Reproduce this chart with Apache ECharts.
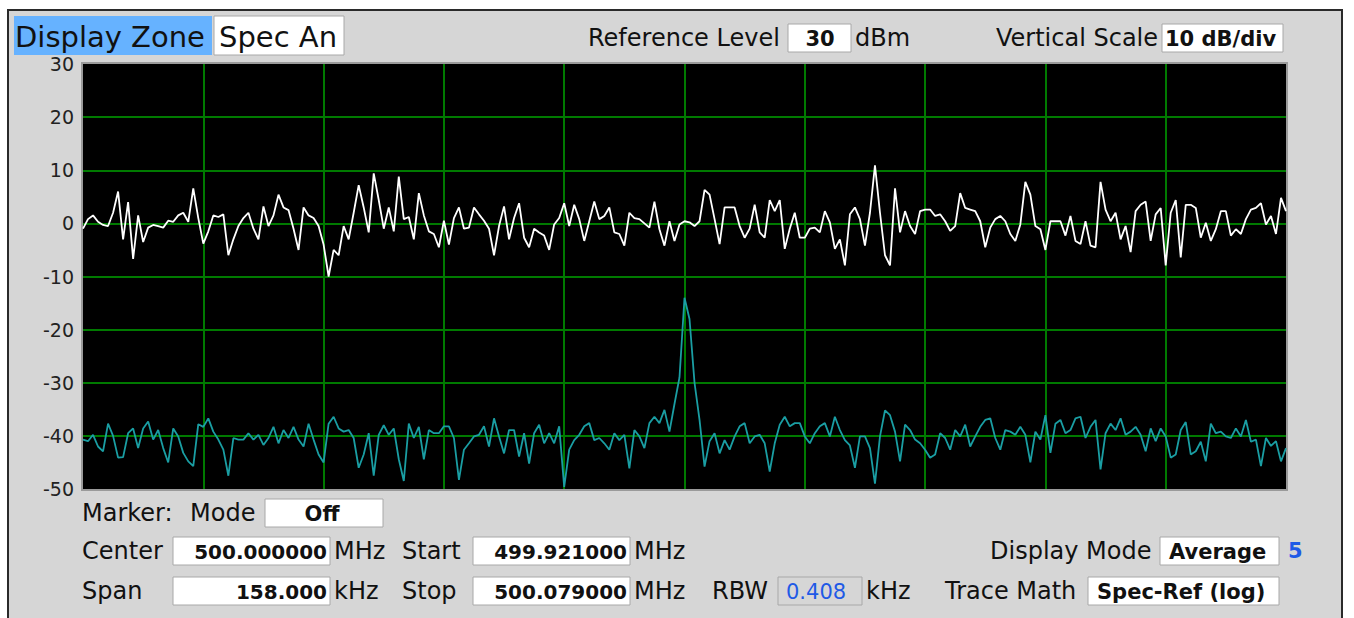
<!DOCTYPE html>
<html>
<head>
<meta charset="utf-8">
<script src="https://cdn.jsdelivr.net/npm/echarts@6/dist/echarts.min.js"></script>
<style>
html,body{margin:0;padding:0;background:#fff;}
#c{width:1354px;height:618px;}
</style>
</head>
<body>
<div id="c"></div>
<script>
// ---- data ----
const yTicks = [30, 20, 10, 0, -10, -20, -30, -40, -50];
const freqStartMHz = 499.921;
const freqStopMHz = 500.079;
// spectrum trace (white), dB, 241 points across the span
const specTrace = [
-1,0.8,1.5,0.3,-0.3,-0.5,2,6,-3,4,-6.7,1.5,-3.5,-0.8,-0.3,-0.5,-0.8,0.5,0.3,1.5,
2,0.3,6.6,1,-3.8,-1.5,1.5,1.2,1.7,-6,-3,-0.5,1,2,-1,-3,3.2,-0.5,1.5,5.4,
3,2.5,-1,-5,3,1.5,1,-0.5,-4,-10,-5,-6,-0.5,-3,2,7.2,3,-1.7,9.4,4.4,
-1,3,-1.5,8.8,0.8,1.2,-3,5.7,1.5,-1.5,-2,-4.5,0.5,-4,1,3,-1,-0.8,3,1.7,
0.5,-1,-6,-0.5,3.2,-3,1,3.8,-2.7,-4.5,-1,-1.7,-2.3,-5,-0.2,1,3.8,-0.5,3.5,0.8,
-3.3,0.4,4.1,0.8,1.4,3,-1.7,-2,-4.2,2,1,0.8,0,-0.8,4.1,-1.1,-4.2,0.4,-3.3,-0.2,
0.4,0.2,-0.5,0.4,6.3,5.4,0.8,-3.9,3,3,3,-0.5,-2.7,-1,3.5,-1.7,-2.7,4.4,2.3,4.4,
-4.8,-1,2,-2.7,-2.7,-1,-0.8,-1.7,2.3,0.2,-4.8,-3,-7.9,1.7,3,0.8,-4.2,2,10.9,2,
-6,-7.9,6.6,-1.7,2.3,-0.5,-2,2.3,2.6,2.6,1.4,1.7,0.4,-1.4,-0.5,5.7,2.9,2.6,2.3,0.4,
-4.5,-0.8,0.8,1.4,0.4,-2,-3.3,-0.2,7.8,5.4,-0.5,-1.1,-5,0.4,0.4,0.4,-2.3,1.4,-3.3,-3.9,
0.4,-4.2,-4.5,7.8,2.6,0.4,2,-3,-0.5,-5.4,2.3,3.5,4.1,-3.3,1.7,2.9,-7.9,2,4.4,-6.4,
3.5,3.5,2.9,-2.7,0.1,-3.3,-1.1,2.3,2.3,-2.3,-1.1,-2,0.8,2.6,2.9,3.8,-0.2,1.4,-2,4.8,
2.3
];
// reference trace (cyan), dB
const refTrace = [
-40.7,-41,-39.8,-42,-42.9,-37.7,-40,-44.1,-44,-39.5,-38.6,-42.3,-38.6,-37.3,-40.7,-38.9,-42.3,-45,-38.6,-40.1,
-43.2,-44.8,-45.7,-37.8,-38.3,-36.7,-39.2,-40.7,-42.6,-47.5,-40.4,-40.7,-40.7,-39.5,-40.7,-39.8,-41.7,-40.4,-38.3,-41.4,
-38.9,-40.4,-38.3,-40.7,-42,-37.7,-40.7,-43.5,-45,-37.7,-36.4,-38.6,-39.2,-38.9,-40.4,-46,-43.5,-39.5,-47.5,-39.8,
-38,-39.8,-38.6,-44.4,-48.5,-37.7,-40.4,-38.3,-44.4,-38.9,-39.5,-39.5,-38.2,-38.2,-40.4,-48.3,-42.6,-41.4,-40.1,-39.8,
-38.2,-42,-36.7,-40.1,-43.3,-38.9,-38.9,-43.9,-39.5,-45.2,-39.5,-37.9,-41.4,-39.5,-41.4,-38.2,-49.6,-42.6,-40.8,-39.8,
-38.2,-37.6,-40.8,-40.4,-41.4,-42.6,-39.5,-40.8,-39.8,-46.1,-38.9,-40.1,-42.3,-37.6,-36.4,-37.6,-35.1,-39.2,-34,-29,
-14,-18,-30,-37,-45.8,-41,-39.5,-43.3,-40.8,-42.6,-40.1,-38.2,-37.6,-41.4,-40.1,-39.8,-41.4,-46.7,-41.4,-37.9,
-36.4,-38.2,-37.6,-37.6,-40.1,-41.4,-39.5,-38.2,-37.6,-40.1,-36.4,-38.9,-40.8,-41.8,-46,-40.1,-40.1,-42.3,-49,-40.1,
-35.2,-36.1,-39.2,-44.8,-37.9,-38.9,-40.7,-41.4,-42.6,-44.1,-43.5,-39.5,-40.4,-42.6,-38.9,-40.1,-37.9,-42,-40.1,-38.3,
-37,-36.7,-40.4,-42.6,-38.9,-39.2,-39.8,-38.3,-39.8,-45,-39.2,-40.7,-36.1,-43.2,-37.7,-37,-39.5,-38.9,-36.7,-36.4,
-40.4,-38.3,-37,-46.3,-39.5,-37.7,-38.9,-36.7,-39.8,-39.2,-38.3,-39.8,-42.9,-38.6,-41,-38.6,-40.1,-44.1,-43.5,-38.9,
-37.4,-43.5,-42.9,-41.1,-44.8,-37.7,-39.5,-39.2,-40.1,-40.4,-38.6,-40.1,-37,-41.1,-40.7,-45.7,-40.4,-41.9,-41,-44.8,
-42.3
];
const freqCats = specTrace.map((_, i) =>
  (freqStartMHz + (freqStopMHz - freqStartMHz) * i / (specTrace.length - 1)).toFixed(6));

// ---- layout ----
const PLOT = { left: 83, top: 64, width: 1203, height: 425 };

// ---- UI text ----
const FONT = "'DejaVu Sans',sans-serif";
function txt(t, x, y, size, opts) {
  opts = opts || {};
  return {
    type: 'text', z: 10,
    style: {
      text: t, x: x, y: y,
      font: (opts.bold ? 'bold ' : '') + size + 'px ' + FONT,
      fill: opts.color || '#111',
      textAlign: opts.align || 'left',
      textVerticalAlign: 'middle'
    }
  };
}
function box(x, y, w, h, fill) {
  return {
    type: 'rect', z: 5,
    shape: { x: x, y: y, width: w, height: h },
    style: { fill: fill || '#fff', stroke: '#a8a8a8', lineWidth: 1 }
  };
}

const graphics = [
  // panel
  { type: 'rect', z: 0, shape: { x: 8, y: 10, width: 1334, height: 612 },
    style: { fill: '#d6d6d6', stroke: '#2a2a2a', lineWidth: 2 } },
  // plot frame and black screen behind the traces
  { type: 'rect', z: 0, shape: { x: PLOT.left - 2, y: PLOT.top - 2, width: PLOT.width + 4, height: PLOT.height + 4 },
    style: { fill: '#9a9a9a' } },
  { type: 'rect', z: 0, shape: { x: PLOT.left, y: PLOT.top, width: PLOT.width, height: PLOT.height },
    style: { fill: '#000000' } },
  // top row
  { type: 'rect', z: 5, shape: { x: 14, y: 16, width: 198, height: 39 }, style: { fill: '#66b2ff' } },
  txt('Display Zone', 15, 37, 29),
  box(214, 16, 130, 39),
  txt('Spec An', 219, 37, 29),
  txt('Reference Level', 588, 38, 24),
  box(788, 24, 63, 28),
  txt('30', 820, 39, 21, { bold: true, align: 'center' }),
  txt('dBm', 855, 38, 24),
  txt('Vertical Scale', 996, 38, 24),
  box(1162, 24, 121, 28),
  txt('10 dB/div', 1165, 39, 21, { bold: true }),
  // bottom rows
  txt('Marker:', 82, 513, 24),
  txt('Mode', 190, 513, 24),
  box(265, 499, 118, 28),
  txt('Off', 322, 514, 21, { bold: true, align: 'center' }),
  txt('Center', 82, 551, 24),
  box(173, 537, 157, 28),
  txt('500.000000', 327, 552, 20, { bold: true, align: 'right' }),
  txt('MHz', 334, 551, 24),
  txt('Start', 402, 551, 24),
  box(473, 537, 157, 28),
  txt('499.921000', 627, 552, 20, { bold: true, align: 'right' }),
  txt('MHz', 634, 551, 24),
  txt('Display Mode', 990, 551, 24),
  box(1160, 537, 119, 28),
  txt('Average', 1169, 552, 21, { bold: true }),
  txt('5', 1288, 551, 21, { bold: true, color: '#1f5ae6' }),
  txt('Span', 82, 591, 24),
  box(173, 577, 157, 28),
  txt('158.000', 327, 592, 20, { bold: true, align: 'right' }),
  txt('kHz', 334, 591, 24),
  txt('Stop', 402, 591, 24),
  box(473, 577, 157, 28),
  txt('500.079000', 627, 592, 20, { bold: true, align: 'right' }),
  txt('MHz', 634, 591, 24),
  txt('RBW', 712, 591, 24),
  box(778, 577, 84, 28, '#d6d6d6'),
  txt('0.408', 786, 592, 21, { color: '#1f5ae6' }),
  txt('kHz', 866, 591, 24),
  txt('Trace Math', 945, 591, 24),
  box(1088, 577, 191, 28),
  txt('Spec-Ref (log)', 1097, 592, 21, { bold: true })
];

const chart = echarts.init(document.getElementById('c'), null, { renderer: 'svg', width: 1354, height: 618 });
chart.setOption({
  animation: false,
  backgroundColor: '#ffffff',
  graphic: graphics,
  grid: {
    left: PLOT.left, top: PLOT.top, width: PLOT.width, height: PLOT.height,
    show: false
  },
  xAxis: {
    type: 'category', data: freqCats, boundaryGap: false,
    axisLine: { show: false }, axisTick: { show: false }, axisLabel: { show: false },
    splitLine: { show: true, showMinLine: false, showMaxLine: false, interval: 23,
      lineStyle: { color: '#007a00', width: 2 } }
  },
  yAxis: {
    type: 'value', min: -50, max: 30, interval: 10,
    axisLine: { show: false }, axisTick: { show: false },
    axisLabel: {
      color: '#222', fontSize: 19, fontFamily: FONT, margin: 9,
      formatter: v => (yTicks.indexOf(v) >= 0 ? String(v) : '')
    },
    splitLine: { show: true, showMinLine: false, showMaxLine: false,
      lineStyle: { color: '#007a00', width: 2 } }
  },
  series: [
    { name: 'Ref', type: 'line', data: refTrace, showSymbol: false, silent: true,
      lineStyle: { color: '#1a9ea3', width: 1.8 }, z: 3 },
    { name: 'Spec', type: 'line', data: specTrace, showSymbol: false, silent: true,
      lineStyle: { color: '#ffffff', width: 1.8 }, z: 4 }
  ]
});
</script>
</body>
</html>
